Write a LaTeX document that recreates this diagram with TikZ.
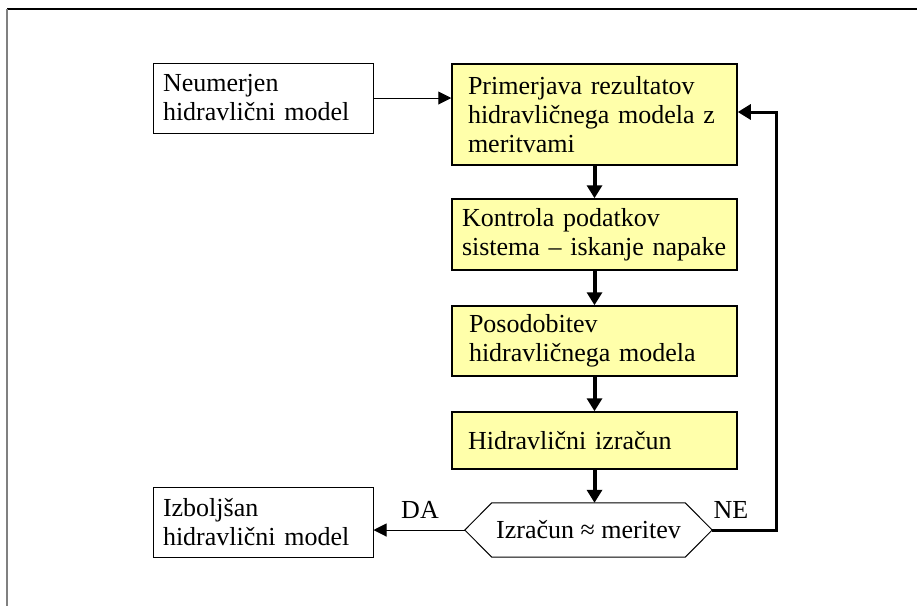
\documentclass[tikz,border=0pt]{standalone}
\usepackage{fontspec}
\setmainfont{Liberation Serif}
\usetikzlibrary{arrows.meta}
\definecolor{boxyellow}{RGB}{255,255,170}
\begin{document}
\begin{tikzpicture}[x=1pt,y=-1pt,
  base/.style={draw, rectangle, align=left, font=\fontsize{26}{29}\selectfont, inner ysep=0pt},
  wbox/.style={base, line width=1pt, text width=200pt, inner xsep=10pt, minimum height=70pt},
  ybox/.style={base, fill=boxyellow, line width=1.5pt, minimum height=#1},
  thick arrow/.style={line width=4pt, -{Triangle[length=13pt,width=15pt]}},
  thin arrow/.style={line width=1pt, -{Triangle[length=13pt,width=13pt]}},
  lbl/.style={font=\fontsize{26}{30}\selectfont, inner sep=0pt}]
\useasboundingbox (0,0) rectangle (917,606);
% frame
\draw[line width=1.2pt] (7,9) -- (917,9);
\draw[gray, line width=2pt] (7,9) -- (7,606);
% nodes
\node[wbox] (neu) at (263,98) {Neumerjen\\hidravlični model};
\node[wbox] (izb) at (263,522) {Izboljšan\\hidravlični model};
\node[ybox=101pt, inner xsep=16pt, text width=253pt] (b1) at (594.5,114.5) {Primerjava rezultatov\\hidravličnega modela z\\meritvami};
\node[ybox=71pt, inner xsep=10pt, text width=265pt] (b2) at (594.5,234.5) {Kontrola podatkov\\sistema – iskanje napake};
\node[ybox=70pt, inner xsep=17pt, text width=251pt] (b3) at (594.5,341) {Posodobitev\\hidravličnega modela};
\node[ybox=57pt, inner xsep=16pt, text width=253pt] (b4) at (594.5,440.5) {Hidravlični izračun};
\node[lbl, minimum width=247pt, minimum height=54pt] (hex) at (588.5,530) {Izračun ≈ meritev};
\draw[line width=1pt] (hex.west) -- ([xshift=27pt]hex.north west) -- ([xshift=-27pt]hex.north east)
  -- (hex.east) -- ([xshift=-27pt]hex.south east) -- ([xshift=27pt]hex.south west) -- cycle;
% labels
\node[lbl] (da) at (420,510) {DA};
\node[lbl] (ne) at (731,510) {NE};
\coordinate (fb) at (776,530);
% connectors
\draw[thin arrow] (neu.east) -- (neu.east -| b1.west);
\draw[thick arrow] (b1) -- (b2);
\draw[thick arrow] (b2) -- (b3);
\draw[thick arrow] (b3) -- (b4);
\draw[thick arrow] (b4.south) -- (b4.south |- hex.north);
\draw[thin arrow] (hex.west) -- (hex.west -| izb.east);
\draw[line width=3pt, -{Triangle[length=13pt,width=15pt]}] (hex.east) -- (fb) |- ([yshift=2.5pt]b1.east);
\end{tikzpicture}
\end{document}
